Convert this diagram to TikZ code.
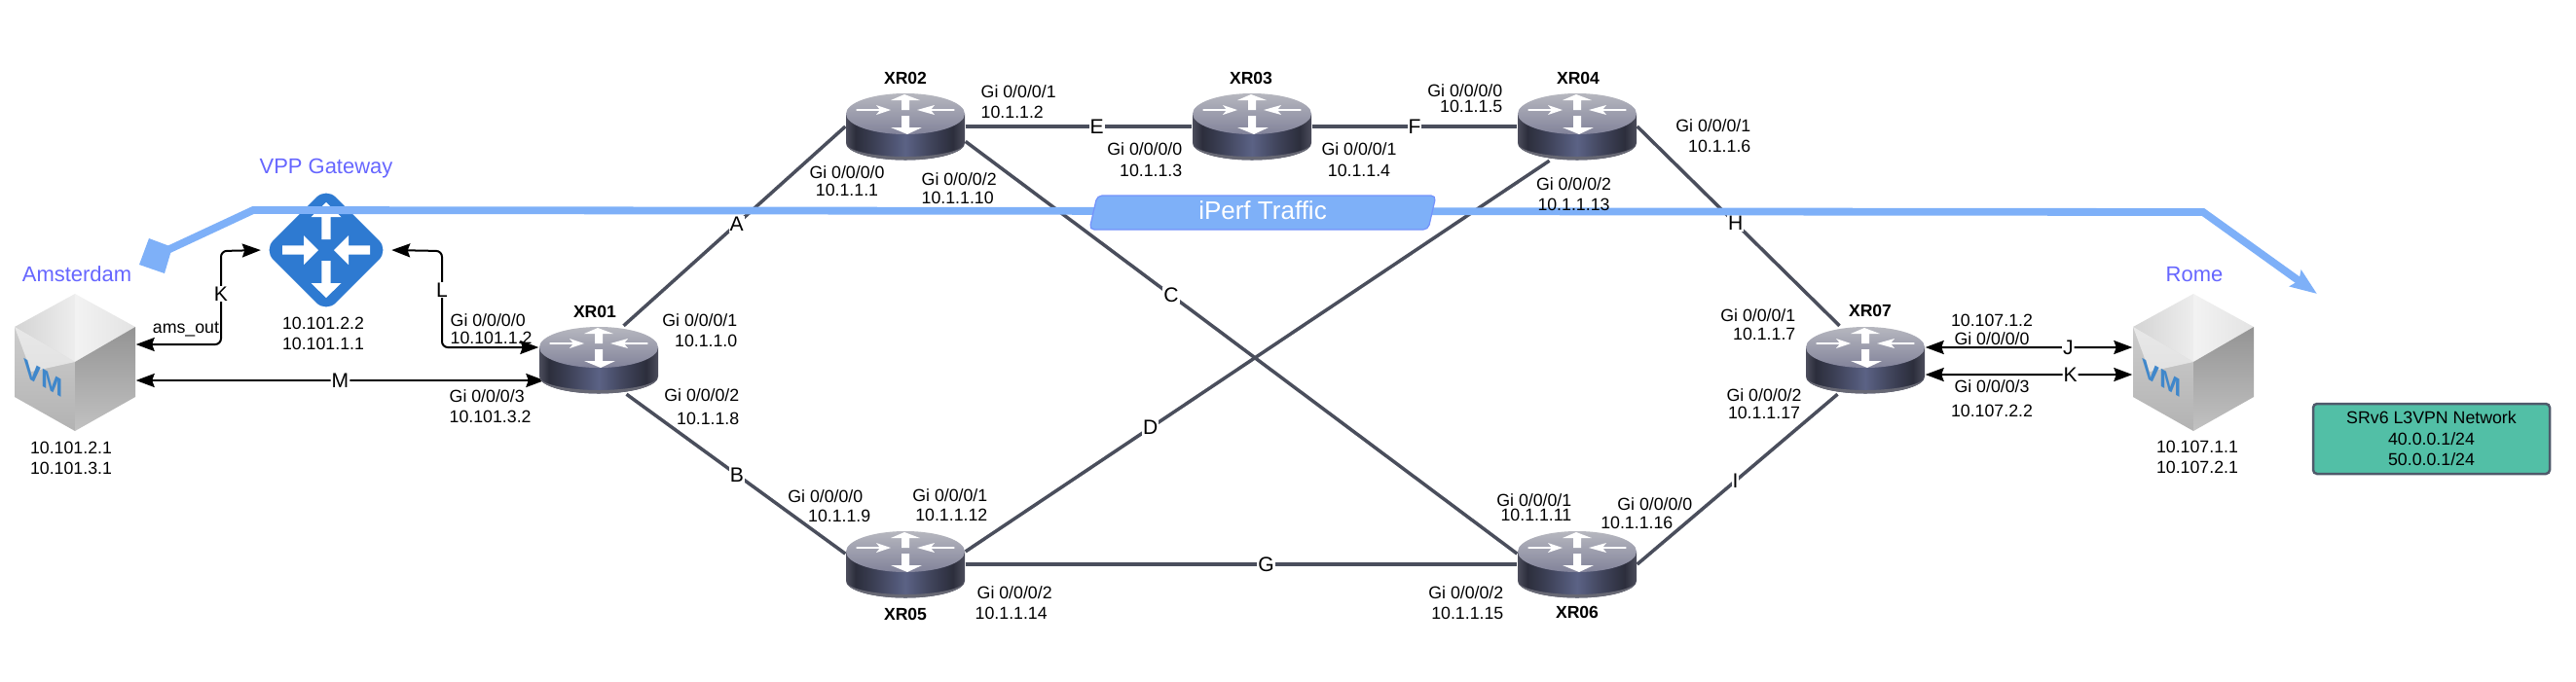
\documentclass[tikz,border=0pt]{standalone}
\usepackage{fontspec}
\setmainfont{Liberation Sans}
\usetikzlibrary{arrows.meta,shapes.geometric}

\definecolor{linkgray}{HTML}{4A4E5C}
\definecolor{trafficblue}{HTML}{7EB0F8}
\definecolor{siteblue}{HTML}{6666FF}
\definecolor{gwblue}{HTML}{2E7AD1}
\definecolor{vmblue}{HTML}{3F87CB}
\definecolor{legendgreen}{HTML}{52BFA6}
\definecolor{legendedge}{HTML}{4F5A6B}
\definecolor{bodydark}{HTML}{2C2E3C}
\definecolor{bodymid}{HTML}{5B6285}
\definecolor{bodyedge}{HTML}{4C4D5C}
\definecolor{toplight}{HTML}{B6B7BF}
\definecolor{topdark}{HTML}{82839A}

\pgfdeclarehorizontalshading{routerbody}{100bp}{
  color(0bp)=(bodyedge); color(25bp)=(bodyedge);
  color(29bp)=(bodydark); color(36bp)=(bodydark!70!bodymid);
  color(50bp)=(bodymid); color(60bp)=(bodydark!55!bodymid);
  color(70bp)=(bodydark); color(75bp)=(bodyedge); color(100bp)=(bodyedge)}

\tikzset{
  routerbox/.style={rectangle, inner sep=0, minimum width=1.22cm, minimum height=.69cm},
  vmbox/.style={rectangle, inner sep=0, minimum width=1.24cm, minimum height=1.41cm},
  link/.style={line width=.035cm, color=linkgray},
  linklbl/.style={fill=white, text=black, inner sep=.01cm, font=\fontsize{6}{7}\selectfont},
  portarrow/.style={{Stealth[length=.19cm,width=.14cm,inset=.025cm]}-{Stealth[length=.19cm,width=.14cm,inset=.025cm]}, line width=.02cm, rounded corners=.06cm},
  iflbl/.style={inner sep=0, font=\fontsize{5.05}{5.97}\selectfont},
  iflblL/.style={iflbl, align=left, anchor=west},
  iflblR/.style={iflbl, align=right, anchor=east},
  iflblC/.style={iflbl, align=center},
  rname/.style={inner sep=0, font=\fontsize{5}{6}\selectfont\bfseries},
  sitelbl/.style={inner sep=0, color=siteblue, font=\fontsize{6.25}{7.5}\selectfont},
  traffic/.style={line width=.078cm, color=trafficblue},
  legendbox/.style={rectangle, draw=legendedge, fill=legendgreen, line width=.025cm, rounded corners=.04cm, inner sep=0, minimum width=2.43cm, minimum height=.72cm, align=center, font=\fontsize{5.05}{6.1}\selectfont},
  routericon/.pic={
    \shade [shading=routerbody] (-.61,.13) -- (-.61,-.17) arc (180:360:.61 and .175) -- (.61,.13) -- cycle;
    \fill [color=bodyedge!85!white] (-.61,-.17) arc (180:360:.61 and .175) arc (360:180:.61 and .14);
    \shade [top color=toplight, bottom color=topdark] (0,.13) ellipse (.61 and .21);
    \draw [white, line width=.012cm, line cap=round] (-.5,.17) -- (-.25,.17);
    \draw [white, line width=.012cm, line cap=round] (.5,.17) -- (.25,.17);
    \fill [white] (-.3,.22) -- (-.15,.17) -- (-.3,.12) -- (-.26,.17) -- cycle;
    \fill [white] (.3,.22) -- (.12,.17) -- (.3,.12) -- (.26,.17) -- cycle;
    \fill [white] (-.04,.17) -- (-.04,.27) -- (-.15,.27) -- (-.01,.33) -- (.15,.27) -- (.04,.27) -- (.04,.17) -- cycle;
    \fill [white] (-.04,.11) -- (-.04,-.01) -- (-.15,-.01) -- (.02,-.08) -- (.17,-.01) -- (.04,-.01) -- (.04,.11) -- cycle;
  },
  vmicon/.pic={
    \shade [left color=black!17!white, right color=black!7!white] (0,.7) -- (-.62,.36) -- (0,0) -- cycle;
    \shade [left color=black!5!white, right color=black!11!white] (0,.7) -- (.62,.36) -- (0,0) -- cycle;
    \shade [top color=black!20!white, bottom color=black!30!white] (-.62,.36) -- (0,0) -- (0,-.71) -- (-.62,-.36) -- cycle;
    \fill [white, opacity=.55] (-.62,.36) -- (0,0) -- (-.45,-.1) -- cycle;
    \shade [top color=black!42!white, bottom color=black!24!white] (0,0) -- (.62,.36) -- (.62,-.36) -- (0,-.71) -- cycle;
    \node (-vmtxt) [inner sep=0, yslant=-.58, color=vmblue, font=\fontsize{7.6}{9}\selectfont\bfseries] at (-.32,-.17) {VM};
  },
}

\begin{document}
\begin{tikzpicture}

    \useasboundingbox (0,0) rectangle (26.46,7.00);

    \node (xr01) [routerbox] at (6.15,3.30) {};
    \node (xr02) [routerbox] at (9.30,5.70) {};
    \node (xr03) [routerbox] at (12.86,5.70) {};
    \node (xr04) [routerbox] at (16.20,5.70) {};
    \node (xr05) [routerbox] at (9.30,1.20) {};
    \node (xr06) [routerbox] at (16.20,1.20) {};
    \node (xr07) [routerbox] at (19.16,3.30) {};
    \node (vmams) [vmbox] at (.77,3.28) {};
    \node (vmrome) [vmbox] at (22.53,3.28) {};
    \node (vppgw) [diamond, fill=gwblue, rounded corners=.14cm, inner sep=0, minimum width=1.29cm, minimum height=1.29cm] at (3.35,4.43) {};

    \begin{scope}[shift={(vppgw)}]
      \fill [white] (-.047,.11) -- (-.047,.34) -- (-.155,.34) -- (0,.49) -- (.155,.34) -- (.047,.34) -- (.047,.11) -- cycle;
      \fill [white, rotate=180] (-.047,.11) -- (-.047,.34) -- (-.155,.34) -- (0,.49) -- (.155,.34) -- (.047,.34) -- (.047,.11) -- cycle;
      \fill [white] (-.45,.047) -- (-.23,.047) -- (-.23,.15) -- (-.08,0) -- (-.23,-.15) -- (-.23,-.047) -- (-.45,-.047) -- cycle;
      \fill [white, rotate=180] (-.45,.047) -- (-.23,.047) -- (-.23,.15) -- (-.08,0) -- (-.23,-.15) -- (-.23,-.047) -- (-.45,-.047) -- cycle;
    \end{scope}

    \draw [link] (xr01.54) -- (xr02.west) node (lnka) [linklbl, pos=.51] {A};
    \draw [link] (xr01.-51) -- (xr05.170) node (lnkb) [linklbl, pos=.504] {B};
    \draw [link] (xr02.-14) -- (xr06.170) node (lnkc) [linklbl, pos=.373] {C};
    \draw [link] (xr04.231) -- (xr05.12) node (lnkd) [linklbl, pos=.683] {D};
    \draw [link] (xr02.east) -- (xr03.west) node (lnke) [linklbl, pos=.58] {E};
    \draw [link] (xr03.east) -- (xr04.west) node (lnkf) [linklbl, pos=.5] {F};
    \draw [link] (xr05.east) -- (xr06.west) node (lnkg) [linklbl, pos=.545] {G};
    \draw [link] (xr04.east) -- (xr07.127) node (lnkh) [linklbl, pos=.486] {H};
    \draw [link] (xr06.east) -- (xr07.231) node (lnki) [linklbl, pos=.49] {I};

    \coordinate (kbend) at (2.27,4.42);
    \coordinate (lbend) at (4.54,4.42);
    \draw [portarrow, shorten >=.02cm] ([yshift=.18cm]vmams.east) -| (kbend) -- (vppgw.west);
    \draw [portarrow, shorten <=.02cm] (vppgw.east) -- (lbend) |- ([yshift=.13cm]xr01.west);
    \draw [portarrow] ([yshift=-.19cm]vmams.east) -- ([xshift=.06cm,yshift=-.21cm]xr01.west) node (lnkm) [linklbl, pos=.5] {M};
    \draw [portarrow] ([yshift=.13cm]xr07.east) -- ([yshift=.15cm]vmrome.west) node (lnkj) [linklbl, pos=.69] {J};
    \draw [portarrow] ([yshift=-.15cm]xr07.east) -- ([yshift=-.13cm]vmrome.west) node (lnkk) [linklbl, pos=.7] {K};
    \node (lblk) [linklbl] at (2.27,3.98) {K};
    \node (lbll) [linklbl] at (4.54,4.02) {L};

    \coordinate (trafficstart) at (1.70,4.42);
    \coordinate (trafficbend) at (2.60,4.84);
    \coordinate (trafficturn) at (22.63,4.82);
    \coordinate (trafficend) at (23.80,3.98);
    \draw [traffic, -{Stealth[length=.27cm,width=.2cm,inset=.04cm]}] (trafficstart) -- (trafficbend) -- (trafficturn) -- (trafficend);
    \fill [color=trafficblue] (1.53,4.55) -- (1.77,4.46) -- (1.69,4.19) -- (1.43,4.28) -- cycle;
    \draw [fill=trafficblue, draw=siteblue!40!trafficblue, line width=.012cm, rounded corners=.05cm] (11.27,4.99) -- (14.75,4.99) -- (14.67,4.64) -- (11.19,4.64) -- cycle;
    \node (iperf) [inner sep=0, color=white, font=\fontsize{7.4}{9}\selectfont] at (12.97,4.84) {iPerf Traffic};

    \pic (xr01icon) at (xr01) {routericon};
    \pic (xr02icon) at (xr02) {routericon};
    \pic (xr03icon) at (xr03) {routericon};
    \pic (xr04icon) at (xr04) {routericon};
    \pic (xr05icon) at (xr05) {routericon};
    \pic (xr06icon) at (xr06) {routericon};
    \pic (xr07icon) at (xr07) {routericon};
    \pic (vmamsicon) at (vmams) {vmicon};
    \pic (vmromeicon) at (vmrome) {vmicon};

    \node (namexr01) [rname] at (6.11,3.80) {XR01};
    \node (namexr02) [rname] at (9.30,6.20) {XR02};
    \node (namexr03) [rname] at (12.85,6.20) {XR03};
    \node (namexr04) [rname] at (16.21,6.20) {XR04};
    \node (namexr05) [rname] at (9.30,.69) {XR05};
    \node (namexr06) [rname] at (16.20,.71) {XR06};
    \node (namexr07) [rname] at (19.21,3.81) {XR07};

    \node (siteams) [sitelbl] at (.79,4.18) {Amsterdam};
    \node (sitegw) [sitelbl] at (3.35,5.27) {VPP Gateway};
    \node (siterome) [sitelbl] at (22.54,4.18) {Rome};

    \node (addrams) [iflblC] at (.73,2.295) {10.101.2.1\\10.101.3.1};
    \node (addrgw) [iflblC] at (3.32,3.575) {10.101.2.2\\10.101.1.1};
    \node (addrrome) [iflblC] at (22.57,2.30) {10.107.1.1\\10.107.2.1};
    \node (amsout) [iflbl] at (1.91,3.61) {ams\_out};

    \node (ifxr01a) [iflblL] at (4.62,3.62) {Gi 0/0/0/0\\[-.03cm]10.101.1.2};
    \node (ifxr01b) [iflblR] at (7.58,3.605) {Gi 0/0/0/1\\10.1.1.0};
    \node (ifxr01c) [iflblR] at (7.60,2.82) {Gi 0/0/0/2\\[.03cm]10.1.1.8};
    \node (ifxr01d) [iflblL] at (4.61,2.825) {Gi 0/0/0/3\\10.101.3.2};

    \node (ifxr02a) [iflblL] at (10.07,5.955) {Gi 0/0/0/1\\10.1.1.2};
    \node (ifxr02b) [iflblC] at (8.70,5.14) {Gi 0/0/0/0\\[-.03cm]10.1.1.1};
    \node (ifxr02c) [iflblL] at (9.46,5.065) {Gi 0/0/0/2\\[-.02cm]10.1.1.10};

    \node (ifxr03a) [iflblR] at (12.15,5.36) {Gi 0/0/0/0\\[.01cm]10.1.1.3};
    \node (ifxr03b) [iflblC] at (13.96,5.36) {Gi 0/0/0/1\\[.01cm]10.1.1.4};

    \node (ifxr04a) [iflblR] at (15.44,5.99) {Gi 0/0/0/0\\[-.05cm]10.1.1.5};
    \node (ifxr04b) [iflblC] at (16.165,5.005) {Gi 0/0/0/2\\10.1.1.13};
    \node (ifxr04c) [iflblR] at (17.99,5.605) {Gi 0/0/0/1\\10.1.1.6};

    \node (ifxr05a) [iflblR] at (8.95,1.80) {Gi 0/0/0/0\hspace*{.08cm}\\[-.01cm]10.1.1.9};
    \node (ifxr05b) [iflblR] at (10.15,1.81) {Gi 0/0/0/1\\[-.01cm]10.1.1.12};
    \node (ifxr05c) [iflblL] at (10.01,.805) {\hspace*{.02cm}Gi 0/0/0/2\\10.1.1.14};

    \node (ifxr06a) [iflblR] at (15.45,.805) {Gi 0/0/0/2\\10.1.1.15};
    \node (ifxr06b) [iflblR] at (16.15,1.785) {Gi 0/0/0/1\\[-.06cm]10.1.1.11};
    \node (ifxr06c) [iflblR] at (17.39,1.725) {Gi 0/0/0/0\\[-.02cm]10.1.1.16\hspace*{.2cm}};

    \node (ifxr07a) [iflblR] at (18.45,3.665) {Gi 0/0/0/1\\[-.02cm]10.1.1.7};
    \node (ifxr07b) [iflblC] at (18.12,2.85) {Gi 0/0/0/2\\[-.03cm]10.1.1.17};
    \node (ifxr07c) [iflblC] at (20.46,3.615) {10.107.1.2\\[-.02cm]Gi 0/0/0/0};
    \node (ifxr07d) [iflblC] at (20.46,2.905) {Gi 0/0/0/3\\[.04cm]10.107.2.2};

    \node (legend) [legendbox] at (24.975,2.49) {SRv6 L3VPN Network\\40.0.0.1/24\\50.0.0.1/24};

\end{tikzpicture}
\end{document}
